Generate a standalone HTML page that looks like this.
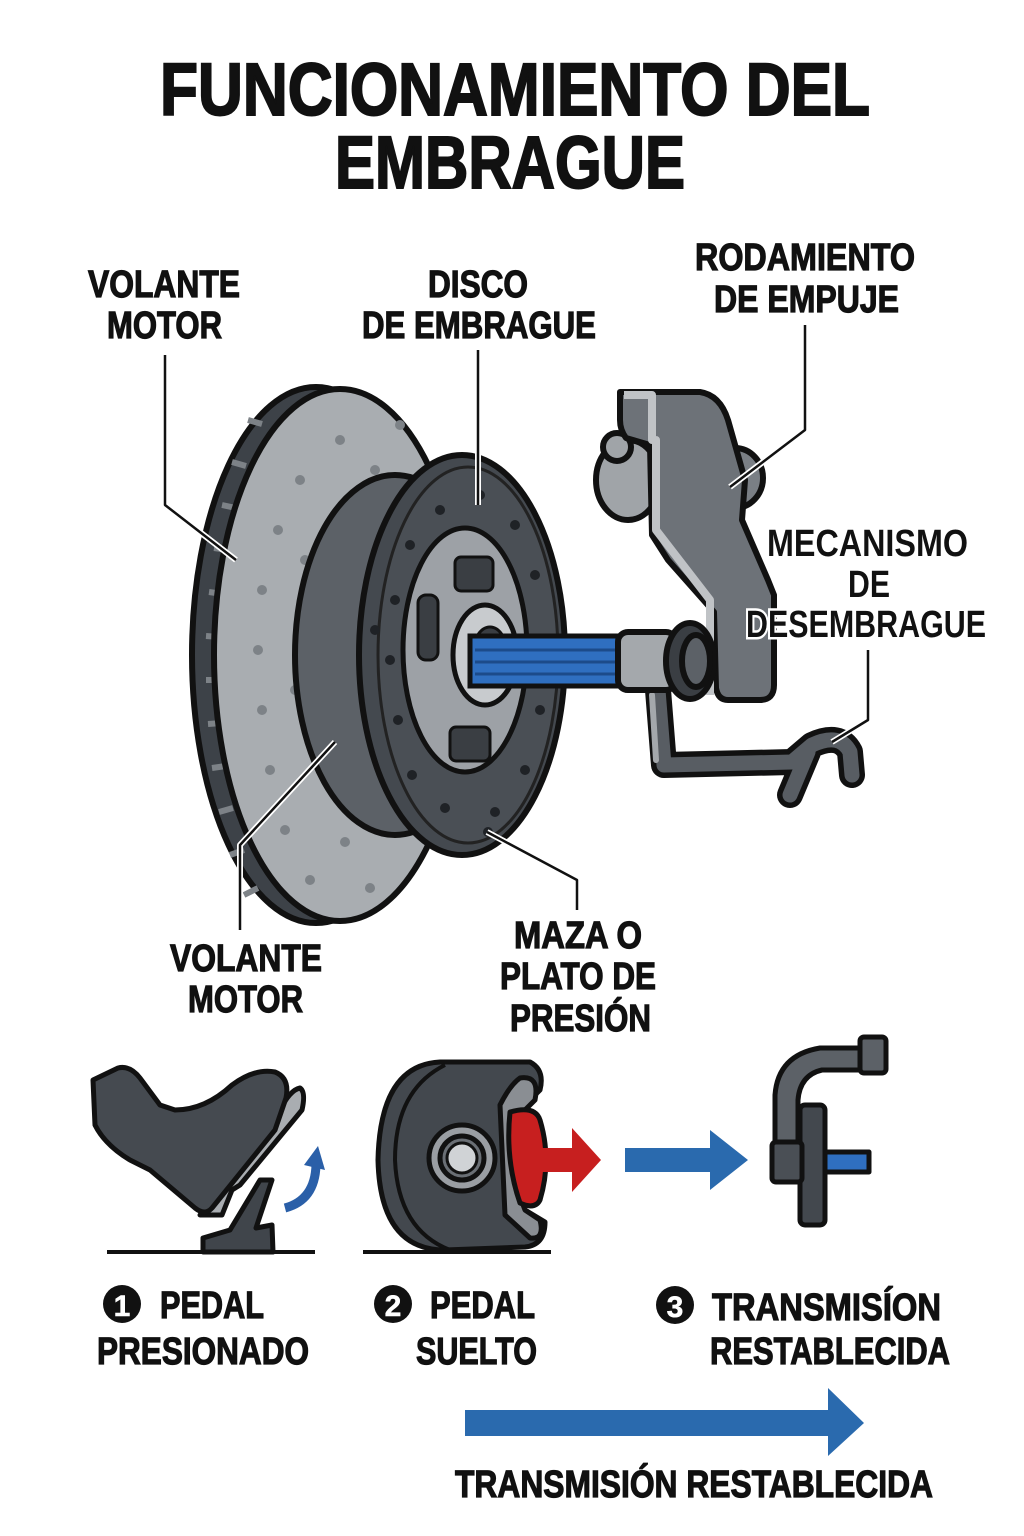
<!DOCTYPE html>
<html><head><meta charset="utf-8"><style>
html,body{margin:0;padding:0;background:#fff;}
svg{display:block}
text{font-family:"Liberation Sans Narrow","Liberation Sans",sans-serif;font-weight:bold;fill:#111;stroke:#111;stroke-width:1.2px;}
</style></head><body>
<svg width="1024" height="1536" viewBox="0 0 1024 1536" xmlns="http://www.w3.org/2000/svg">
<text x="160" y="115" font-size="74" textLength="710" lengthAdjust="spacingAndGlyphs" style="stroke-width:2px">FUNCIONAMIENTO DEL</text>
<text x="335" y="188" font-size="74" textLength="350" lengthAdjust="spacingAndGlyphs" style="stroke-width:2px">EMBRAGUE</text>

<g font-size="38">
<text x="88" y="297" textLength="152" lengthAdjust="spacingAndGlyphs">VOLANTE</text>
<text x="107" y="338" textLength="115" lengthAdjust="spacingAndGlyphs">MOTOR</text>
<text x="428" y="297" textLength="100" lengthAdjust="spacingAndGlyphs">DISCO</text>
<text x="362" y="338" textLength="234" lengthAdjust="spacingAndGlyphs">DE EMBRAGUE</text>
<text x="695" y="270" textLength="220" lengthAdjust="spacingAndGlyphs">RODAMIENTO</text>
<text x="714" y="312" textLength="185" lengthAdjust="spacingAndGlyphs">DE EMPUJE</text>
<text x="170" y="971" textLength="152" lengthAdjust="spacingAndGlyphs">VOLANTE</text>
<text x="188" y="1012" textLength="115" lengthAdjust="spacingAndGlyphs">MOTOR</text>
<text x="514" y="948" textLength="128" lengthAdjust="spacingAndGlyphs">MAZA O</text>
<text x="500" y="989" textLength="156" lengthAdjust="spacingAndGlyphs">PLATO DE</text>
<text x="510" y="1031" textLength="141" lengthAdjust="spacingAndGlyphs">PRESIÓN</text>
</g>

<!-- Flywheel -->
<g stroke="#111" stroke-width="6">
<ellipse cx="316" cy="655" rx="124" ry="268" fill="#3d4248"/>
</g>
<g stroke="#7d8287" stroke-width="6">
<path d="M248 420 L262 424 M232 462 L246 466 M222 505 L236 508 M214 548 L228 550 M209 592 L223 594 M206 636 L220 637 M206 680 L220 680 M208 724 L222 723 M212 768 L226 766 M219 812 L233 808 M230 855 L244 850 M244 895 L258 888"/>
</g>
<ellipse cx="340" cy="655" rx="126" ry="266" fill="#a9adb1" stroke="#111" stroke-width="6"/>
<g fill="#7d8287">
<circle cx="400" cy="425" r="5"/><circle cx="340" cy="440" r="5"/><circle cx="300" cy="480" r="5"/><circle cx="375" cy="470" r="5"/>
<circle cx="278" cy="530" r="5"/><circle cx="262" cy="590" r="5"/><circle cx="258" cy="650" r="5"/><circle cx="262" cy="710" r="5"/>
<circle cx="270" cy="770" r="5"/><circle cx="285" cy="830" r="5"/><circle cx="310" cy="880" r="5"/><circle cx="370" cy="888" r="5"/>
<circle cx="345" cy="842" r="5"/><circle cx="300" cy="620" r="5"/><circle cx="295" cy="690" r="5"/><circle cx="305" cy="560" r="5"/>
</g>
<ellipse cx="395" cy="655" rx="100" ry="180" fill="#5c6167" stroke="#111" stroke-width="6"/>
<ellipse cx="462" cy="655" rx="103" ry="200" fill="#44494f" stroke="#111" stroke-width="6"/>
<ellipse cx="468" cy="655" rx="90" ry="188" fill="#4a4f55" stroke="#222" stroke-width="3"/>
<g fill="#1f2226">
<circle cx="480" cy="495" r="5"/><circle cx="440" cy="510" r="5"/><circle cx="515" cy="525" r="5"/><circle cx="410" cy="545" r="5"/>
<circle cx="535" cy="575" r="5"/><circle cx="395" cy="600" r="5"/><circle cx="545" cy="640" r="5"/><circle cx="390" cy="660" r="5"/>
<circle cx="540" cy="710" r="5"/><circle cx="398" cy="720" r="5"/><circle cx="525" cy="770" r="5"/><circle cx="412" cy="775" r="5"/>
<circle cx="495" cy="812" r="5"/><circle cx="445" cy="808" r="5"/><circle cx="488" cy="832" r="5"/><circle cx="375" cy="630" r="5"/>
</g>
<ellipse cx="465" cy="650" rx="62" ry="122" fill="#9da1a6" stroke="#111" stroke-width="5"/>
<g fill="#3a3e43" stroke="#111" stroke-width="3">
<rect x="455" y="557" width="38" height="34" rx="6"/>
<rect x="450" y="727" width="40" height="34" rx="6"/>
<rect x="418" y="595" width="20" height="65" rx="8"/>
</g>
<ellipse cx="485" cy="655" rx="32" ry="50" fill="#c8cbce" stroke="#111" stroke-width="5"/>
<ellipse cx="490" cy="657" rx="18" ry="30" fill="#3a3e43" stroke="#111" stroke-width="3"/>
<rect x="470" y="636" width="160" height="50" fill="#2f6fc0" stroke="#111" stroke-width="5"/>
<path d="M475 650 H628 M475 662 H628 M475 674 H628" stroke="#1c4b8a" stroke-width="3"/>

<!-- lower arm -->
<g fill="none" stroke-linecap="round" stroke-linejoin="round">
<path d="M658 690 L664 765 L792 762 L812 745 Q840 732 850 752 L852 775 M808 752 L790 795" stroke="#111" stroke-width="26"/>
<path d="M658 690 L664 765 L792 762 L812 745 Q840 732 850 752 L852 775 M808 752 L790 795" stroke="#585d63" stroke-width="15"/>
<path d="M652 695 L656 760" stroke="#a4a8ac" stroke-width="6"/>
</g>
<g stroke="#111" stroke-width="6" stroke-linejoin="round">
<ellipse cx="628" cy="480" rx="32" ry="40" fill="#a0a4a8"/>
<circle cx="617" cy="447" r="14" fill="#a0a4a8"/>
<ellipse cx="735" cy="478" rx="28" ry="30" fill="#7a7f85"/>
<path d="M620 392 H700 Q720 395 728 420 L745 480 L742 520 L768 580 L774 595 V685 Q774 700 760 700 H728 Q718 700 716 688 L714 612 L668 560 L652 535 L650 445 L626 438 Q620 430 620 420 Z" fill="#6d7278"/>
<path d="M624 395 H652 V440 L656 440 V530 L710 600 V695" fill="none" stroke="#c0c3c6" stroke-width="8"/>
<rect x="618" y="632" width="58" height="58" rx="10" fill="#a4a8ac"/>
<ellipse cx="690" cy="661" rx="24" ry="38" fill="#3a3e43"/>
<ellipse cx="696" cy="661" rx="14" ry="26" fill="#5c6167"/>
</g>
<g font-size="38" paint-order="stroke">
<text x="767" y="556" textLength="201" lengthAdjust="spacingAndGlyphs" style="stroke:#fff;stroke-width:5px">MECANISMO</text>
<text x="848" y="597" textLength="42" lengthAdjust="spacingAndGlyphs" style="stroke:#fff;stroke-width:5px">DE</text>
<text x="746" y="637" textLength="240" lengthAdjust="spacingAndGlyphs" style="stroke:#fff;stroke-width:5px">DESEMBRAGUE</text>
</g>

<g fill="none" stroke="#fff" stroke-width="6" stroke-linejoin="round">
<path d="M165 355 V505 L236 560"/><path d="M478 350 V505"/><path d="M805 325 V430 L730 487"/>
<path d="M868 650 V720 L832 742"/><path d="M240 930 V845 L335 742"/><path d="M577 910 V880 L487 832"/>
</g>
<g fill="none" stroke="#111" stroke-width="2.5" stroke-linejoin="round">
<path d="M165 355 V505 L236 560"/><path d="M478 350 V505"/><path d="M805 325 V430 L730 487"/>
<path d="M868 650 V720 L832 742"/><path d="M240 930 V845 L335 742"/><path d="M577 910 V880 L487 832"/>
</g>

<!-- icon 1 -->
<g stroke="#111" stroke-width="5" stroke-linejoin="round">
<path d="M203 1238 L230 1230 L260 1180 L272 1180 L256 1228 L272 1225 L273 1252 L203 1252 Z" fill="#40454b"/>
<path d="M200 1215 L280 1110 Q290 1090 300 1088 Q306 1092 302 1110 L240 1185 L232 1190 L222 1215 Z" fill="#a9adb1"/>
<path d="M93 1080 L118 1068 Q130 1065 140 1078 L160 1105 L175 1110 Q205 1110 232 1085 Q255 1068 275 1072 Q290 1078 286 1098 L275 1130 L212 1208 Q205 1216 195 1208 L150 1170 L130 1160 Q105 1145 95 1125 Z" fill="#454a50"/>
</g>
<path d="M285 1208 Q315 1200 316 1165" fill="none" stroke="#2a5fa8" stroke-width="9"/>
<path d="M304 1165 L318 1146 L325 1170 Z" fill="#2a5fa8"/>
<rect x="107" y="1250" width="208" height="4" fill="#111"/>
<!-- icon 2 -->
<g stroke="#111" stroke-width="5" stroke-linejoin="round">
<path d="M440 1062 H530 Q545 1070 540 1090 L520 1110 Q500 1140 505 1160 Q505 1190 525 1210 L545 1222 Q545 1245 525 1247 L445 1250 Q380 1250 378 1160 Q380 1065 440 1062 Z" fill="#43484e"/>
<path d="M445 1065 Q395 1090 395 1160 Q398 1230 450 1250" fill="none" stroke-width="4"/>
<path d="M500 1105 Q510 1085 520 1078 Q540 1075 535 1100 L525 1110 Q505 1160 525 1210 L540 1220 Q545 1240 530 1238 L505 1215 Z" fill="#8a8e93"/>
<path d="M510 1112 Q535 1105 540 1120 Q552 1160 540 1200 Q535 1210 520 1203 Q505 1160 510 1112 Z" fill="#c71f1f"/>
<circle cx="462" cy="1158" r="33" fill="#9a9ea3"/>
<circle cx="462" cy="1158" r="22" fill="#6a6f75"/>
<circle cx="462" cy="1158" r="15" fill="#d0d3d6" stroke-width="3"/>
</g>
<path d="M540 1148 H572 V1128 L601 1160 L572 1192 V1172 H540 Z" fill="#c71f1f"/>
<path d="M625 1148 H710 V1130 L748 1160 L710 1190 V1172 H625 Z" fill="#2a6aae"/>
<!-- icon 3 -->
<g stroke="#111" stroke-width="5" stroke-linejoin="round">
<path d="M775 1145 V1095 Q778 1055 820 1048 H865 V1070 H822 Q800 1075 798 1100 V1145 Z" fill="#5c6167"/>
<rect x="860" y="1037" width="26" height="36" rx="4" fill="#5c6167"/>
<rect x="800" y="1105" width="25" height="120" rx="5" fill="#43484e"/>
<rect x="772" y="1142" width="30" height="40" rx="4" fill="#4a4f55"/>
<rect x="825" y="1152" width="44" height="20" fill="#2f6fc0"/>
</g>
<rect x="363" y="1250" width="188" height="4" fill="#111"/>

<g>
<circle cx="122" cy="1304" r="19" fill="#111"/><text x="122" y="1316" font-size="30" text-anchor="middle" style="fill:#fff;stroke:#fff;stroke-width:0.5px">1</text>
<circle cx="393" cy="1304" r="19" fill="#111"/><text x="393" y="1316" font-size="30" text-anchor="middle" style="fill:#fff;stroke:#fff;stroke-width:0.5px">2</text>
<circle cx="675" cy="1305" r="19" fill="#111"/><text x="675" y="1317" font-size="30" text-anchor="middle" style="fill:#fff;stroke:#fff;stroke-width:0.5px">3</text>
</g>
<g font-size="38">
<text x="160" y="1318" textLength="104" lengthAdjust="spacingAndGlyphs">PEDAL</text>
<text x="97" y="1364" textLength="212" lengthAdjust="spacingAndGlyphs">PRESIONADO</text>
<text x="430" y="1318" textLength="105" lengthAdjust="spacingAndGlyphs">PEDAL</text>
<text x="416" y="1364" textLength="121" lengthAdjust="spacingAndGlyphs">SUELTO</text>
<text x="712" y="1320" textLength="229" lengthAdjust="spacingAndGlyphs">TRANSMISÍON</text>
<text x="710" y="1364" textLength="240" lengthAdjust="spacingAndGlyphs">RESTABLECIDA</text>
<text x="455" y="1497" textLength="478" lengthAdjust="spacingAndGlyphs">TRANSMISIÓN RESTABLECIDA</text>
</g>
<path d="M465 1410 H828 V1388 L864 1423 L828 1456 V1436 H465 Z" fill="#2a6aae"/>
</svg>
</body></html>
